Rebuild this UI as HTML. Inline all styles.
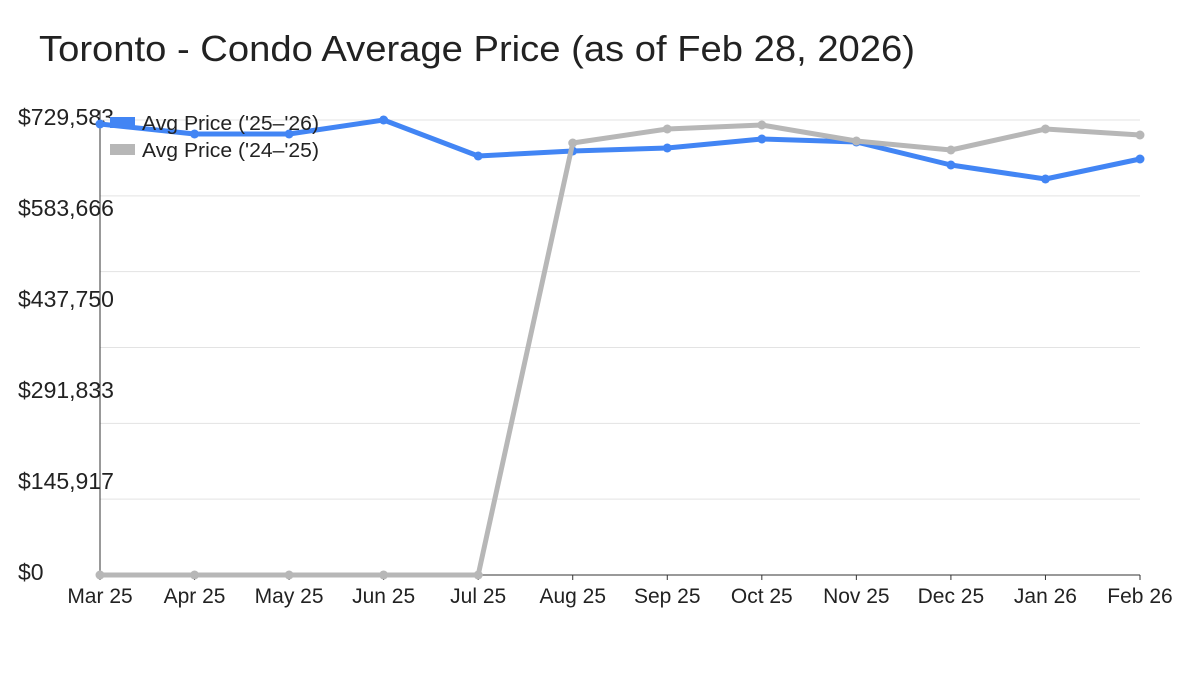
<!DOCTYPE html>
<html><head><meta charset="utf-8"><style>
body{margin:0;background:#fff;width:1200px;height:675px;overflow:hidden}
text{font-family:"Liberation Sans",sans-serif}
</style></head><body>
<svg id="chart" width="1200" height="675" xmlns="http://www.w3.org/2000/svg">
<text x="39" y="61" font-size="36" fill="#222" textLength="876" lengthAdjust="spacingAndGlyphs">Toronto - Condo Average Price (as of Feb 28, 2026)</text>
<g id="grid"></g><g id="axes"></g><g id="series"></g>
<g>
<rect x="110" y="117" width="25" height="11" fill="#4285f4"/>
<text x="142" y="130" font-size="20" fill="#222" textLength="177" lengthAdjust="spacingAndGlyphs">Avg Price ('25–'26)</text>
<rect x="110" y="144" width="25" height="11" fill="#b7b7b7"/>
<text x="142" y="157" font-size="20" fill="#222" textLength="177" lengthAdjust="spacingAndGlyphs">Avg Price ('24–'25)</text>
</g>
</svg>
<script>
const categories=["Mar 25","Apr 25","May 25","Jun 25","Jul 25","Aug 25","Sep 25","Oct 25","Nov 25","Dec 25","Jan 26","Feb 26"];
const series2526=[723170,707135,707135,729583,671860,679877,684687,699119,694308,657428,634980,667050];
const series2425=[0,0,0,0,0,692704,715152,721566,695912,681480,715152,705531];
const yTickLabels=["$0","$145,917","$291,833","$437,750","$583,666","$729,583"];
const yMax=729583;
const L=100,R=1140,T=120,B=575;
const NS="http://www.w3.org/2000/svg";
const x=i=>L+i*(R-L)/(categories.length-1);
const y=v=>B-(v/yMax)*(B-T);
function mk(tag,attrs,parent){const e=document.createElementNS(NS,tag);for(const k in attrs)e.setAttribute(k,attrs[k]);parent.appendChild(e);return e;}
const grid=document.getElementById('grid'),axes=document.getElementById('axes'),ser=document.getElementById('series');
for(let i=1;i<=6;i++){const yy=B-i*(B-T)/6;const g=mk('line',{x1:L,x2:R,y1:yy,y2:yy,stroke:'#e3e3e3','stroke-width':1},grid);

}
yTickLabels.forEach((t,i)=>{const v=i*yMax/5;const e=mk('text',{x:18,y:y(v)+5,'font-size':23,fill:'#222'},axes);e.textContent=t;

});
const ya=mk('line',{x1:L,x2:L,y1:T-10,y2:B,stroke:'#333','stroke-width':1},axes);


const xa=mk('line',{x1:L,x2:R,y1:B,y2:B,stroke:'#333','stroke-width':1},axes);


categories.forEach((c,i)=>{const tk=mk('line',{x1:x(i),x2:x(i),y1:B,y2:B+5,stroke:'#333'},axes);


const e=mk('text',{x:x(i),y:B+28,'font-size':21,fill:'#222','text-anchor':'middle'},axes);e.textContent=c;

});
function draw(vals,color,name){const pts=vals.map((v,i)=>x(i)+','+y(v)).join(' ');
const pl=mk('polyline',{points:pts,fill:'none',stroke:color,'stroke-width':5,'stroke-linejoin':'round'},ser);


vals.forEach((v,i)=>{const c=mk('circle',{cx:x(i),cy:y(v),r:4.5,fill:color},ser);

});}
draw(series2526,'#4285f4','series-25-26');
draw(series2425,'#b7b7b7','series-24-25');
</script>
</body></html>
